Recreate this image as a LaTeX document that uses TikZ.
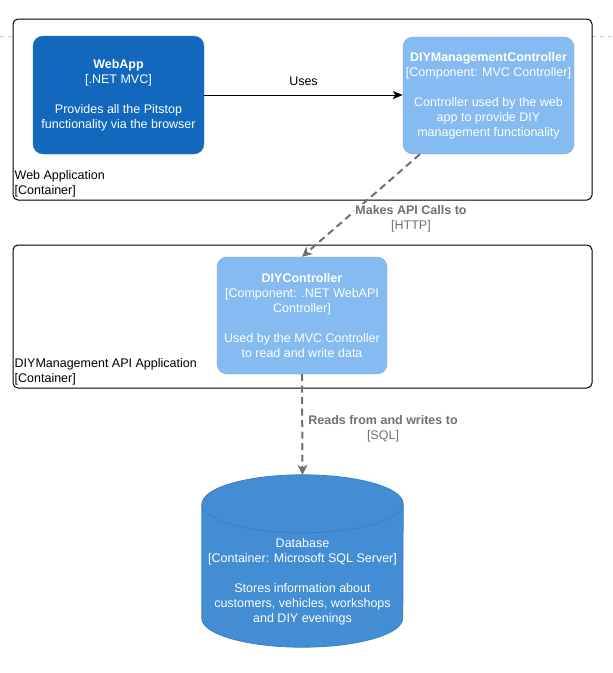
\documentclass[tikz,border=0pt]{standalone}
\usepackage{fontspec}
\setmainfont{Liberation Sans}
\usetikzlibrary{arrows.meta,calc}

\definecolor{appfill}{HTML}{1168BD}
\definecolor{appline}{HTML}{3C7FC0}
\definecolor{compfill}{HTML}{85BBF0}
\definecolor{compline}{HTML}{78A8D8}
\definecolor{dbfill}{HTML}{438DD5}
\definecolor{dbline}{HTML}{3C7FC0}
\definecolor{relgray}{HTML}{707070}

\tikzset{
  txt/.style={font=\fontsize{12.5}{15}\selectfont, align=center},
  boundary/.style={draw=black, line width=1pt, rounded corners=5pt, fill=white,
    inner sep=0pt},
  boundarylabel/.style={font=\fontsize{12.5}{15}\selectfont, align=left,
    anchor=south west, inner sep=0pt},
  appbox/.style={txt, fill=appfill, draw=appline, rounded corners=10pt,
    text=white, minimum width=171pt, minimum height=118pt, inner sep=0pt},
  compbox/.style={txt, fill=compfill, draw=compline, rounded corners=10pt,
    text=white, minimum width=171pt, minimum height=117pt, inner sep=0pt},
  uses/.style={draw=black, line width=1pt,
    -{Stealth[length=10pt, width=8pt, inset=2.5pt]}},
  rel/.style={draw=relgray, line width=2pt, dash pattern=on 7pt off 4.5pt,
    -{Stealth[length=10pt, width=10pt, inset=3pt]}},
  rellabel/.style={txt, text=relgray, inner sep=1pt, fill=white},
}

\begin{document}
\begin{tikzpicture}[x=1pt, y=1pt]
  \useasboundingbox (0,0) rectangle (613,-673);

  % outer system boundary, only its top edge shows at the sides
  \draw[gray!45, dash pattern=on 4pt off 4pt] (0,-36) -- (613,-36);

  % container boundaries
  \node[boundary, minimum width=579pt, minimum height=181pt] (webcont) at (302.5,-109.5) {};
  \node[boundarylabel] (weblabel) at ([shift={(2pt,3pt)}]webcont.south west)
    {Web Application\\{[}Container{]}};

  \node[boundary, minimum width=579pt, minimum height=143pt] (apicont) at (302.5,-316.5) {};
  \node[boundarylabel] (apilabel) at ([shift={(2pt,3pt)}]apicont.south west)
    {DIYManagement API Application\\{[}Container{]}};

  % components
  \node[appbox] (webapp) at (118.5,-95)
    {\textbf{WebApp}\\{[}.NET MVC{]}\\[15pt]Provides all the Pitstop\\functionality via the browser};

  \node[compbox] (mvc) at (488.5,-95.5)
    {\textbf{DIYManagementController}\\{[}Component: MVC Controller{]}\\[15pt]Controller used by the web\\app to provide DIY\\management functionality};

  \node[compbox, minimum width=170pt] (api) at (302,-315.5)
    {\textbf{DIYController}\\{[}Component: .NET WebAPI\\Controller{]}\\[15pt]Used by the MVC Controller\\to read and write data};

  % database cylinder
  \node[minimum width=201pt, minimum height=172pt, inner sep=0pt] (db) at (302.5,-561) {};
  \path[fill=dbfill, draw=dbline, line width=0.8pt]
    ($(db.north west)+(0,-29)$) -- ($(db.south west)+(0,29)$)
    arc[start angle=180, end angle=360, x radius=100.5, y radius=29]
    -- ($(db.north east)+(0,-29)$)
    arc[start angle=0, end angle=180, x radius=100.5, y radius=29] -- cycle;
  \draw[dbline, line width=0.8pt] ($(db.north west)+(0,-29)$)
    arc[start angle=180, end angle=360, x radius=100.5, y radius=29];
  \node[txt, text=white] (dbtext) at (302.5,-581.5)
    {Database\\{[}Container: Microsoft SQL Server{]}\\[15pt]Stores information about\\customers, vehicles, workshops\\and DIY evenings};

  % relationships
  \draw[uses] (webapp.east |- 0,-95) -- (mvc.west |- 0,-95)
    node[midway, above=9pt, txt, text=black, inner sep=0pt] (useslabel) {Uses};

  \draw[rel] ($(mvc.south west)!0.1!(mvc.south east)$) -- (api.north);
  \node[rellabel] (httplabel) at (411,-218.5)
    {\textbf{Makes API Calls to}\\{[}HTTP{]}};

  \draw[rel] (api.south) -- (db.north);
  \node[rellabel] (sqllabel) at (383,-428.5)
    {\textbf{Reads from and writes to}\\{[}SQL{]}};
\end{tikzpicture}
\end{document}
